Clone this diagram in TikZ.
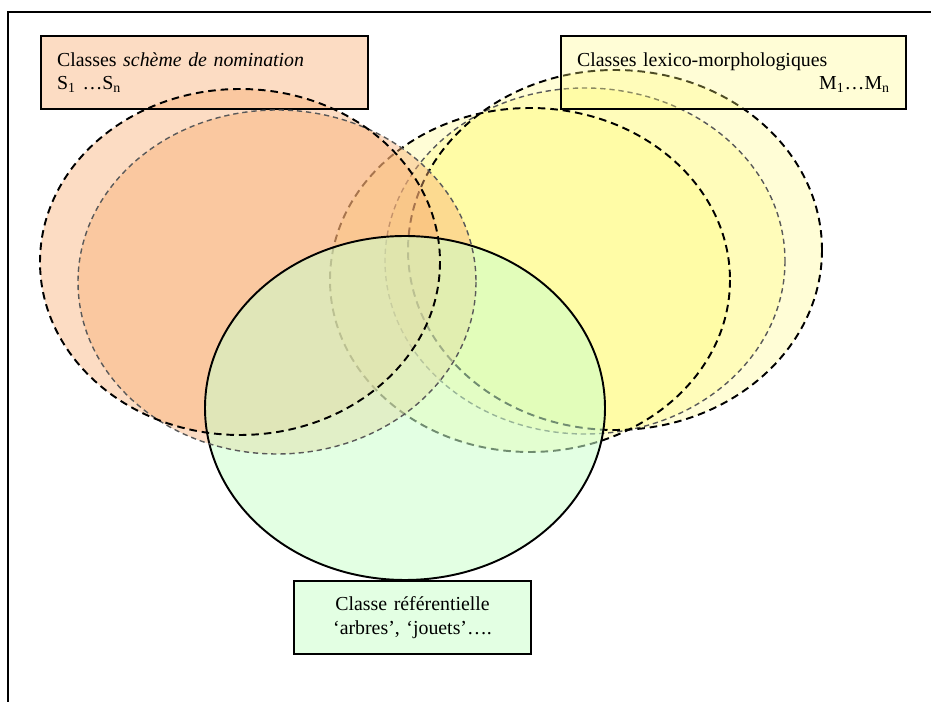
\documentclass[tikz,border=0pt]{standalone}
\usepackage{fontspec}
\setmainfont{Liberation Serif}
\usetikzlibrary{positioning}

\definecolor{peach}{RGB}{248,174,115}
\definecolor{lemon}{RGB}{255,250,120}
\definecolor{mint}{RGB}{204,255,204}

\tikzset{
  classbox/.style={draw, line width=1.2pt, anchor=north west, inner xsep=0.32cm, inner ysep=0pt,
    minimum height=1.46cm, text opacity=1, font=\fontsize{11.3}{13.5}\selectfont},
  frontline/.style={line width=1.1pt, dash pattern=on 4.3pt off 2.8pt},
  backline/.style={line width=0.8pt, draw=black!65, dash pattern=on 3pt off 2.2pt},
}

\begin{document}
\begin{tikzpicture}[x=0.02cm,y=-0.02cm]
    \useasboundingbox (0,0) rectangle (931,702);

    % lexico-morphological classes
    \fill[lemon, fill opacity=0.3] (585,261) ellipse (200 and 173);
    \fill[lemon, fill opacity=0.3] (615,250) ellipse (207 and 180);
    \fill[lemon, fill opacity=0.3] (530,280) ellipse (200 and 172);
    \draw[backline]  (585,261) ellipse (200 and 173);
    \draw[frontline] (615,250) ellipse (207 and 180);
    \draw[frontline] (530,280) ellipse (200 and 172);
    \node[classbox, fill=lemon, fill opacity=0.3, text width=6.26cm, align=left] (M) at (560,35)
        {Classes lexico-morphologiques\\ \hspace*{\fill}M\textsubscript{1}…M\textsubscript{n}};

    % naming-scheme classes (fills)
    \fill[peach, fill opacity=0.43] (277,282) ellipse (199 and 172);
    \fill[peach, fill opacity=0.43] (240,262) ellipse (200 and 173);
    \node[classbox, fill=peach, fill opacity=0.43, text width=5.9cm, align=left] (S) at (40,35)
        {Classes \textit{schème de nomination}\\ S\textsubscript{1} …S\textsubscript{n}};

    % referential class
    \draw[line width=1.1pt, fill=mint, fill opacity=0.55] (405,408) ellipse (200 and 172);
    \node[classbox, fill=mint, fill opacity=0.55, text width=4.1cm, align=center] (R) at (293,580)
        {Classe référentielle\\ ‘arbres’, ‘jouets’….};

    % naming-scheme classes (lines)
    \draw[backline]  (277,282) ellipse (199 and 172);
    \draw[frontline] (240,262) ellipse (200 and 173);

    \draw[line width=1.1pt] (931,12) -- (8,12) -- (8,702);
\end{tikzpicture}
\end{document}
